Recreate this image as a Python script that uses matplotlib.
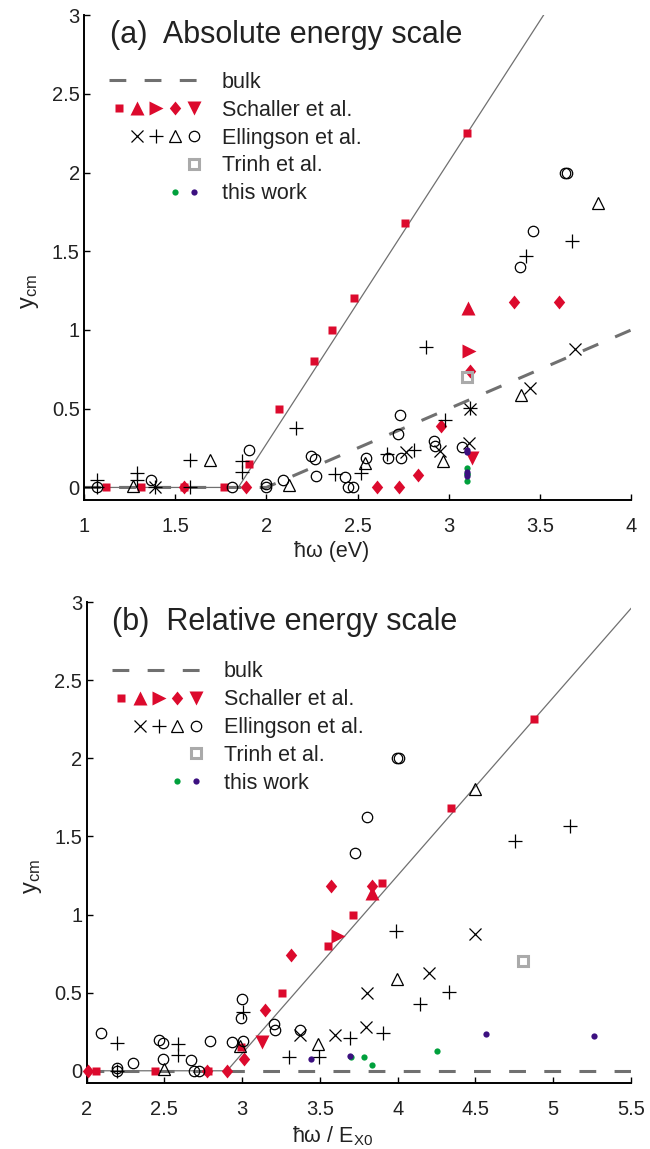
import numpy as np
import matplotlib
matplotlib.use('Agg')
import matplotlib.pyplot as plt
from matplotlib.lines import Line2D
from matplotlib.path import Path
from matplotlib.legend_handler import HandlerTuple

plt.rcParams['font.family'] = ['Liberation Sans', 'DejaVu Sans']

# ---- data: photon energy (eV), yield y_cm, and E_X0 (eV) per series ----
# Schaller et al.
sch_sq_E = [1.12, 1.31, 1.55, 1.77, 1.905, 2.07, 2.26, 2.36, 2.48, 2.76, 3.10]
sch_sq_y = [0, 0, 0, 0, 0.15, 0.50, 0.80, 1.00, 1.20, 1.68, 2.25]
sch_sq_E0 = 0.636
sch_up_E = [3.107]
sch_up_y = [1.14]
sch_up_E0 = 0.81
sch_right_E = [3.112]
sch_right_y = [0.865]
sch_right_E0 = 0.86
sch_dia_E = [1.55, 1.886, 2.605, 2.729, 2.833, 2.956, 3.116, 3.36, 3.606]
sch_dia_y = [0, 0, 0, 0, 0.078, 0.39, 0.74, 1.18, 1.18]
sch_dia_E0 = 0.94
sch_down_E = [3.127]
sch_down_y = [0.185]
sch_down_E0 = 1.0

# Ellingson et al.
ell_x_E = [1.39, 2.765, 2.952, 3.112, 3.116, 3.445, 3.69]
ell_x_y = [0, 0.226, 0.232, 0.28, 0.50, 0.629, 0.877]
ell_x_E0 = 0.82
ell_p_E = [1.07, 1.07, 1.29, 1.29, 1.39, 1.58, 1.58, 1.865, 1.865, 2.162,
           2.376, 2.517, 2.66, 2.81, 2.873, 2.982, 3.116, 3.423, 3.677]
ell_p_y = [0.047, 0, 0.089, 0.047, 0, 0.175, 0, 0.17, 0.10, 0.378,
           0.088, 0.09, 0.21, 0.24, 0.895, 0.426, 0.505, 1.472, 1.565]
ell_p_E0 = 0.72
ell_t_E = [1.27, 1.69, 2.125, 2.54, 2.966, 3.394, 3.82]
ell_t_y = [0.012, 0.173, 0.013, 0.157, 0.17, 0.588, 1.805]
ell_t_E0 = 0.85
ell_o_E = [1.07, 1.367, 1.81, 1.905, 2.0, 2.0, 2.09, 2.243, 2.266, 2.27,
           2.431, 2.45, 2.476, 2.545, 2.668, 2.724, 2.73, 2.736, 2.919, 2.924,
           3.07, 3.39, 3.463, 3.637, 3.65]
ell_o_y = [0, 0.05, 0, 0.239, 0.02, 0, 0.047, 0.197, 0.18, 0.073,
           0.067, 0, 0, 0.19, 0.186, 0.34, 0.46, 0.188, 0.297, 0.262,
           0.26, 1.397, 1.626, 2.0, 2.0]
ell_o_E0 = 0.91

# Trinh et al.
tri_E = [3.10]
tri_y = [0.70]
tri_E0 = 0.645

# this work (excitation 3.1 eV)
tw_green_E = [3.1, 3.1, 3.1, 3.1]
tw_green_y = [0.085, 0.085, 0.04, 0.124]
tw_green_E0 = [0.838, 0.819, 0.808, 0.729]
tw_purple_E = [3.1, 3.1, 3.1, 3.1]
tw_purple_y = [0.075, 0.096, 0.235, 0.224]
tw_purple_E0 = [0.900, 0.839, 0.679, 0.589]

# guide lines
fit_a_x = [1.0, 1.846, 3.52]
fit_a_y = [0, 0, 3.0]
fit_b_x = [2.0, 2.903, 5.5]
fit_b_y = [0, 0, 2.96]
bulk_a_x = [1.0, 2.0, 4.0]
bulk_a_y = [0, 0, 1.0]
bulk_b_x = [2.0, 5.5]
bulk_b_y = [0, 0]

RED = '#dc0a2d'
GREY = '#707070'
GREEN = '#00a03c'
PURPLE = '#3c1080'
TXT = '#222222'

diamond = Path([(-0.82, 0), (0, 1), (0.82, 0), (0, -1), (-0.82, 0)],
               [Path.MOVETO, Path.LINETO, Path.LINETO, Path.LINETO, Path.CLOSEPOLY])

styles = {
    'sq': dict(marker='s', ms=6, mfc=RED, mec='none'),
    'up': dict(marker='^', ms=10, mfc=RED, mec='none'),
    'right': dict(marker='>', ms=9.5, mfc=RED, mec='none'),
    'dia': dict(marker=diamond, ms=10, mfc=RED, mec='none'),
    'down': dict(marker='v', ms=10, mfc=RED, mec='none'),
    'x': dict(marker='x', ms=8, color='k', mew=0.9),
    'p': dict(marker='+', ms=10.5, color='k', mew=0.9),
    't': dict(marker='^', ms=8.5, mfc='none', mec='k', mew=0.9),
    'o': dict(marker='o', ms=7.5, mfc='none', mec='k', mew=0.9),
    'trinh': dict(marker='s', ms=7.5, mfc='none', mec='#aaaaaa', mew=2.2),
    'green': dict(marker='o', ms=4.5, mfc=GREEN, mec='none'),
    'purple': dict(marker='o', ms=4.5, mfc=PURPLE, mec='none'),
}

series = [
    (sch_sq_E, sch_sq_y, sch_sq_E0, 'sq'),
    (sch_up_E, sch_up_y, sch_up_E0, 'up'),
    (sch_right_E, sch_right_y, sch_right_E0, 'right'),
    (sch_dia_E, sch_dia_y, sch_dia_E0, 'dia'),
    (sch_down_E, sch_down_y, sch_down_E0, 'down'),
    (ell_x_E, ell_x_y, ell_x_E0, 'x'),
    (ell_p_E, ell_p_y, ell_p_E0, 'p'),
    (ell_t_E, ell_t_y, ell_t_E0, 't'),
    (ell_o_E, ell_o_y, ell_o_E0, 'o'),
    (tri_E, tri_y, tri_E0, 'trinh'),
    (tw_green_E, tw_green_y, tw_green_E0, 'green'),
    (tw_purple_E, tw_purple_y, tw_purple_E0, 'purple'),
]


def panel(ax, rel, xlim, xticks, fit, bulk, title, xlabel, xlab_y, leg_y):
    ax.plot(fit[0], fit[1], color=GREY, lw=0.9, zorder=1)
    ax.plot(bulk[0], bulk[1], color=GREY, lw=2.2, dashes=(5.5, 6), zorder=1)
    for E, y, E0, key in series:
        x = np.asarray(E, float)
        if rel:
            x = x / np.asarray(E0, float)
        y = np.asarray(y, float)
        keep = (x >= xlim[0] - 0.01) & (x <= xlim[1])
        ax.plot(x[keep], y[keep], ls='none', clip_on=False, zorder=3, **styles[key])

    ax.set_xlim(xlim)
    ax.set_ylim(-0.08, 3)
    ax.set_xticks(xticks)
    ax.set_xticklabels(['%g' % t for t in xticks])
    ax.set_yticks([0, 0.5, 1, 1.5, 2, 2.5, 3])
    ax.set_yticklabels(['0', '0.5', '1', '1.5', '2', '2.5', '3'])
    for s in ['top', 'right']:
        ax.spines[s].set_visible(False)
    for s in ['left', 'bottom']:
        ax.spines[s].set_linewidth(1.4)
    ax.tick_params(direction='in', length=4.5, width=1.0, labelsize=14.5,
                   colors='k', labelcolor=TXT)
    ax.tick_params(axis='x', pad=12)
    ax.tick_params(axis='y', pad=3)
    ax.set_xlabel(xlabel, fontsize=15.5, color=TXT)
    ax.set_ylabel(r'$\mathregular{y_{cm}}$', fontsize=17, color=TXT)
    ax.xaxis.set_label_coords(0.452, xlab_y)
    ax.yaxis.set_label_coords(-0.078, 0.43)
    ax.text(0.047, 0.942, title, transform=ax.transAxes, fontsize=22,
            color=TXT, va='baseline', ha='left')

    blank = Line2D([], [], ls='none')
    h = lambda k: Line2D([], [], ls='none', **styles[k])
    handles = [
        Line2D([], [], color=GREY, lw=2.2, dashes=(5.5, 6)),
        (h('sq'), h('up'), h('right'), h('dia'), h('down')),
        (blank, h('x'), h('p'), h('t'), h('o')),
        (blank, blank, blank, blank, h('trinh')),
        (blank, blank, blank, h('green'), h('purple')),
    ]
    labels = ['bulk', 'Schaller et al.', 'Ellingson et al.', 'Trinh et al.', 'this work']
    leg = ax.legend(handles, labels, loc='upper left', bbox_to_anchor=(0.046, leg_y),
                    frameon=False, fontsize=15.5, handlelength=4.37, handletextpad=0.85,
                    labelspacing=0.32, borderpad=0, borderaxespad=0,
                    handler_map={tuple: HandlerTuple(ndivide=None, pad=0)})
    for t in leg.get_texts():
        t.set_color(TXT)


fig = plt.figure(figsize=(6.5, 11.49), dpi=100)
ax1 = fig.add_axes([0.1292, 0.5648, 0.8418, 0.4221])
ax2 = fig.add_axes([0.1331, 0.0572, 0.8378, 0.4188])

panel(ax1, False, (1, 4), [1, 1.5, 2, 2.5, 3, 3.5, 4], (fit_a_x, fit_a_y),
      (bulk_a_x, bulk_a_y), '(a)  Absolute energy scale', 'ħω (eV)', -0.085, 0.883)
panel(ax2, True, (2, 5.5), [2, 2.5, 3, 3.5, 4, 4.5, 5, 5.5], (fit_b_x, fit_b_y),
      (bulk_b_x, bulk_b_y), '(b)  Relative energy scale', r'ħω / $\mathregular{E_{X0}}$',
      -0.085, 0.877)

fig.savefig('out.png', dpi=100)
